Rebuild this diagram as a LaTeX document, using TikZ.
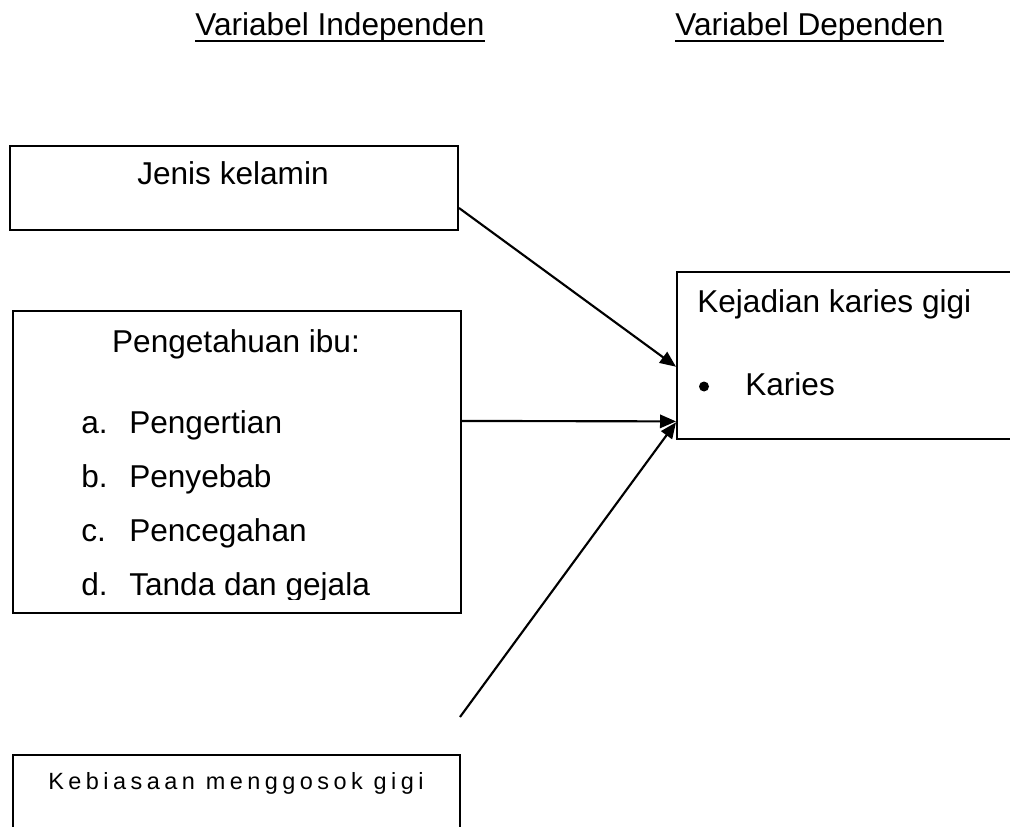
\documentclass[tikz,border=0pt]{standalone}
\usepackage{fontspec}
\setmainfont{Liberation Sans}
\newfontfamily\spacedfont[LetterSpace=19]{Liberation Sans}
\usetikzlibrary{arrows.meta}

\tikzset{
    box/.style={draw, line width=1.5pt, inner sep=0pt, anchor=north west},
    txt/.style={inner sep=0pt, font=\fontsize{23.7}{28}\selectfont},
    arr/.style={line width=1.6pt, -{Triangle[length=12pt,width=10pt]}}
}

\begin{document}
\begin{tikzpicture}[x=0.75pt, y=-0.75pt]
    \useasboundingbox (0,0) rectangle (1010,827);

    % headings
    \node[txt, anchor=base west] (indep) at (195,36) {Variabel Independen};
    \node[txt, anchor=base west] (dep) at (675,36) {Variabel Dependen};
    \draw[line width=1.4pt] ([yshift=-3.8pt]indep.base west) -- ([yshift=-3.8pt]indep.base east);
    \draw[line width=1.4pt] ([yshift=-3.8pt]dep.base west) -- ([yshift=-3.8pt]dep.base east);

    % boxes
    \node[box, minimum width=336pt, minimum height=63pt] (jk) at (9,145) {};
    \node[box, minimum width=336pt, minimum height=226.5pt] (pi) at (12,310) {};
    \node[box, minimum width=262pt, minimum height=125.5pt] (kk) at (676,271) {};
    \node[box, minimum width=335pt, minimum height=90pt] (kb) at (12,754) {};

    % texts
    \node[txt, anchor=base] (jkt) at (233,185) {Jenis kelamin};
    \node[txt, anchor=base] (pit) at (236,352) {Pengetahuan ibu:};
    \begin{scope}
        \clip (12,300) rectangle (460,599.5);
        \foreach \lab/\txt [count=\i] in {a./Pengertian, b./Penyebab, c./Pencegahan, d./Tanda dan gejala} {
            \node[txt, anchor=base west] (lab\i) at (81,{433+54.3*(\i-1)}) {\lab};
            \node[txt, anchor=base west] (item\i) at (129,{433+54.3*(\i-1)}) {\txt};
        }
    \end{scope}
    \node[txt, anchor=base west] (kkt) at (697,312) {Kejadian karies gigi};
    \node[circle, fill, inner sep=0pt, minimum size=7.5pt] (bul) at (704,386.5) {};
    \node[txt, anchor=base west] (kar) at (745,395) {Karies};
    \node[inner sep=0pt, anchor=base west, font=\fontsize{17.6}{21}\spacedfont] (kbt) at (48,789) {Kebiasaan menggosok gigi};

    % arrows
    \coordinate (kbe) at (460,717);
    \draw[arr] ([yshift=-15pt]jk.east) -- ([yshift=-8.3pt]kk.west);
    \draw[arr] ([yshift=30.8pt]pi.east) -- ([yshift=-49.3pt]kk.west);
    \draw[arr] (kbe) -- ([yshift=-50pt]kk.west);
\end{tikzpicture}
\end{document}
